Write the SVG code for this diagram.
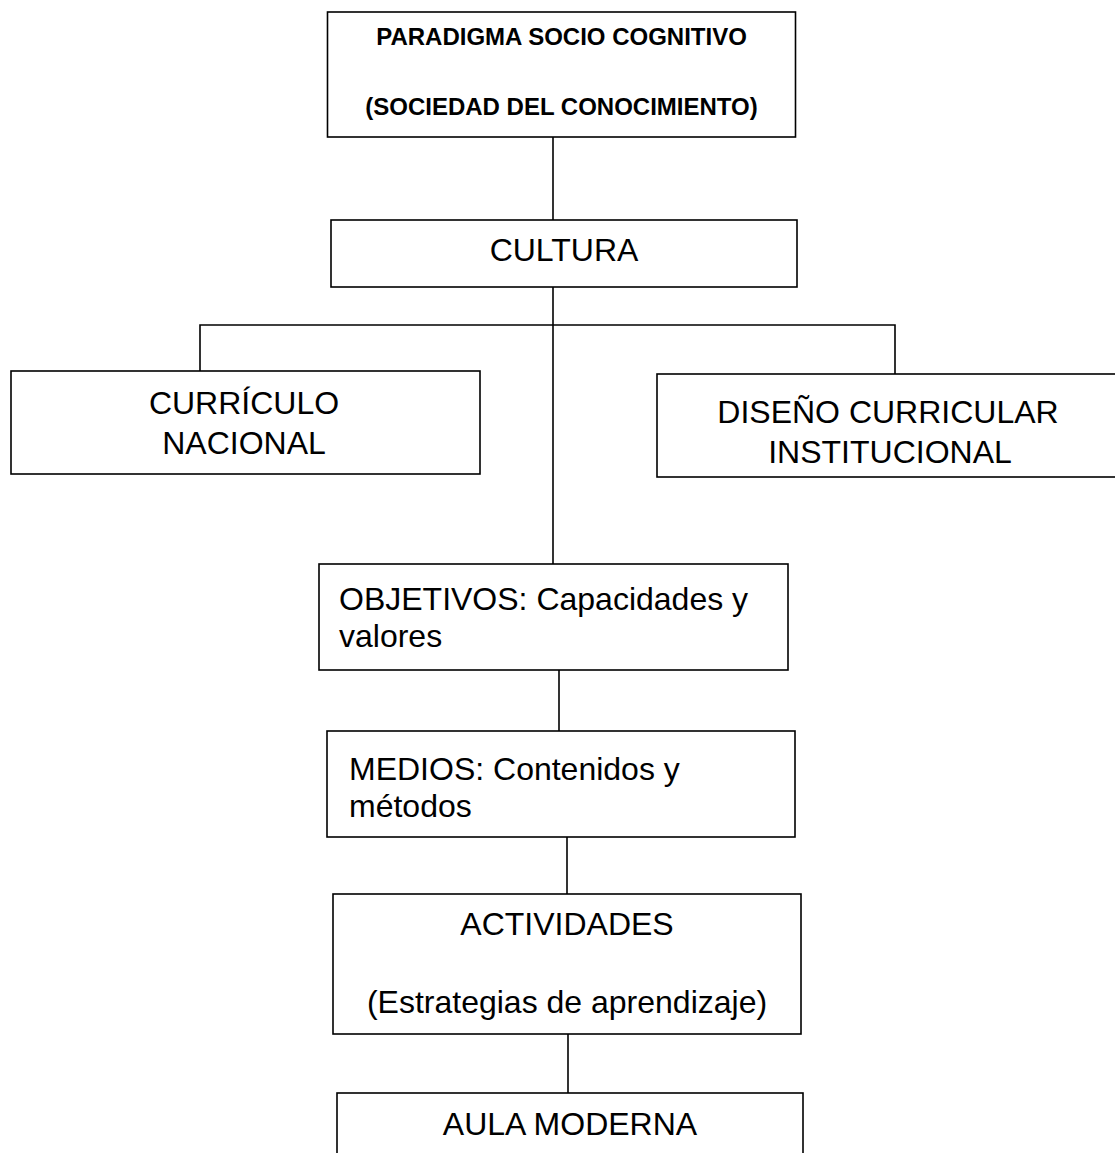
<svg xmlns="http://www.w3.org/2000/svg" width="1115" height="1153" viewBox="0 0 1115 1153">
<style>
.box{fill:#fff;stroke:#000;stroke-width:1.6}
.ln{stroke:#000;stroke-width:1.6;fill:none}
.t{font-family:"Liberation Sans",Arial,sans-serif;font-size:32px;fill:#000}
.c{text-anchor:middle}
.b{font-weight:bold;font-size:24px}
</style>
<rect width="1115" height="1153" fill="#fff"/>
<g id="connectors">
<line class="ln" x1="553" y1="137" x2="553" y2="220"/>
<line class="ln" x1="553" y1="287" x2="553" y2="564"/>
<polyline class="ln" points="200,371 200,325 895,325 895,374"/>
<line class="ln" x1="559" y1="670" x2="559" y2="731"/>
<line class="ln" x1="567" y1="837" x2="567" y2="894"/>
<line class="ln" x1="568" y1="1034" x2="568" y2="1093"/>
</g>
<g id="paradigma">
<rect class="box" x="327.5" y="12" width="468" height="125"/>
<text class="t b c" x="561.5" y="45">PARADIGMA SOCIO COGNITIVO</text>
<text class="t b c" x="561.5" y="115">(SOCIEDAD DEL CONOCIMIENTO)</text>
</g>
<g id="cultura">
<rect class="box" x="331" y="220" width="466" height="67"/>
<text class="t c" x="564" y="261">CULTURA</text>
</g>
<g id="curriculo">
<rect class="box" x="11" y="371" width="469" height="103"/>
<text class="t c" x="244" y="414">CURRÍCULO</text>
<text class="t c" x="244" y="454">NACIONAL</text>
</g>
<g id="diseno">
<rect class="box" x="657" y="374" width="470" height="103"/>
<text class="t c" x="888" y="423">DISEÑO CURRICULAR</text>
<text class="t c" x="890" y="463">INSTITUCIONAL</text>
</g>
<g id="objetivos">
<rect class="box" x="319" y="564" width="469" height="106"/>
<text class="t" x="339" y="610">OBJETIVOS: Capacidades y</text>
<text class="t" x="339" y="647">valores</text>
</g>
<g id="medios">
<rect class="box" x="327" y="731" width="468" height="106"/>
<text class="t" x="349" y="780">MEDIOS: Contenidos y</text>
<text class="t" x="349" y="817">métodos</text>
</g>
<g id="actividades">
<rect class="box" x="333" y="894" width="468" height="140"/>
<text class="t c" x="567" y="935">ACTIVIDADES</text>
<text class="t c" x="567" y="1013">(Estrategias de aprendizaje)</text>
</g>
<g id="aula">
<rect class="box" x="337" y="1093" width="466" height="80"/>
<text class="t c" x="570" y="1135">AULA MODERNA</text>
</g>
</svg>
